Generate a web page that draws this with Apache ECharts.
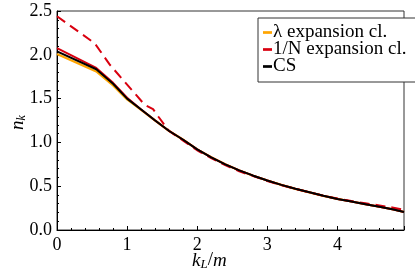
<!DOCTYPE html>
<html>
<head>
<meta charset="utf-8">
<script src="https://cdn.jsdelivr.net/npm/echarts@6/dist/echarts.min.js"></script>
<style>html,body{margin:0;padding:0;background:#fff}#c{width:415px;height:277px}</style>
</head>
<body>
<div id="c"></div>
<script>
// Data
var kSolid = [0, 0.56, 0.8, 1.0, 1.2, 1.4, 1.6, 1.8, 2.0, 2.2, 2.4, 2.6, 2.8, 3.0, 3.2, 3.4, 3.6, 3.8, 4.0, 4.2, 4.4, 4.6, 4.8, 4.95];
var csValues     = [2.04, 1.835, 1.67, 1.50, 1.375, 1.25, 1.13, 1.03, 0.92, 0.83, 0.75, 0.68, 0.62, 0.565, 0.515, 0.47, 0.43, 0.39, 0.355, 0.325, 0.295, 0.265, 0.235, 0.205];
var lambdaValues = [2.01, 1.81, 1.65, 1.49, 1.37, 1.25, 1.13, 1.03, 0.92, 0.83, 0.75, 0.68, 0.62, 0.565, 0.515, 0.47, 0.43, 0.39, 0.355, 0.325, 0.295, 0.265, 0.235, 0.205];
var invNValues   = [2.075, 1.85, 1.68, 1.51, 1.375, 1.25, 1.13, 1.03, 0.92, 0.83, 0.75, 0.68, 0.62, 0.565, 0.515, 0.47, 0.43, 0.39, 0.355, 0.325, 0.295, 0.265, 0.235, 0.205];
var kDashed = [0, 0.54, 0.75, 1.0, 1.25, 1.37, 1.45, 1.55, 1.6, 1.8, 2.0, 2.2, 2.4, 2.6, 2.8, 3.0, 3.2, 3.4, 3.6, 3.8, 4.0, 4.2, 4.4, 4.6, 4.8, 4.95];
var invNClassicalValues = [2.44, 2.13, 1.89, 1.66, 1.43, 1.38, 1.29, 1.18, 1.13, 1.02, 0.91, 0.82, 0.74, 0.67, 0.615, 0.56, 0.51, 0.47, 0.43, 0.39, 0.36, 0.33, 0.305, 0.28, 0.255, 0.23];
var xTicks = [0, 1, 2, 3, 4];
var yTicks = [0, 0.5, 1.0, 1.5, 2.0, 2.5];
var legendNames = ['\u03bb expansion cl.', '1/N expansion cl.', 'CS'];
var legendColors = ['#FFA500', '#D9000F', '#000000'];

function pairs(xs, ys) { return xs.map(function (x, i) { return [x, ys[i]]; }); }

var FONT = 'Liberation Serif';
var chart = echarts.init(document.getElementById('c'), null, {renderer: 'canvas'});
chart.setOption({
  animation: false,
  backgroundColor: '#fff',
  grid: {left: 57, right: 11, top: 11, bottom: 47, show: true, borderColor: '#333', borderWidth: 1},
  xAxis: {
    type: 'value', min: 0, max: 4.95, interval: 1,
    axisLine: {onZero: false, lineStyle: {color: '#000', width: 1}},
    axisTick: {inside: true, length: 4, lineStyle: {color: '#000'}},
    minorTick: {show: true, splitNumber: 5, length: 2, lineStyle: {color: '#000'}},
    splitLine: {show: false},
    axisLabel: {showMaxLabel: false, color: '#000', fontFamily: FONT, fontSize: 18, margin: 6,
      formatter: function (v) { return xTicks.indexOf(v) >= 0 ? String(v) : ''; }}
  },
  yAxis: {
    type: 'value', min: 0, max: 2.5, interval: 0.5,
    axisLine: {show: true, onZero: false, lineStyle: {color: '#000', width: 1}},
    axisTick: {show: true, inside: true, length: 4, lineStyle: {color: '#000'}},
    minorTick: {show: true, splitNumber: 5, length: 2, lineStyle: {color: '#000'}},
    splitLine: {show: false},
    axisLabel: {color: '#000', fontFamily: FONT, fontSize: 18, margin: 5,
      formatter: function (v) { return yTicks.indexOf(v) >= 0 ? v.toFixed(1) : ''; }}
  },
  legend: {
    data: legendNames.map(function (n, i) {
      return {name: n, icon: 'path://M0,0H10V3H0Z', itemStyle: {color: legendColors[i], borderWidth: 0},
              lineStyle: {type: 'solid', color: legendColors[i], width: 0, opacity: 0}};
    }),
    orient: 'vertical', left: 258, top: 18,
    itemWidth: 9, itemHeight: 3, itemGap: -2,
    padding: [5, 10, 6, 5],
    backgroundColor: '#fff', borderColor: '#333', borderWidth: 1, borderRadius: 0,
    textStyle: {fontFamily: FONT, fontSize: 19, lineHeight: 14, color: '#000', padding: [0, 0, 0, -4]}
  },
  graphic: [
    {type: 'text', left: 192, top: 251, style: {
      text: '{i|k}{s|L}{n|/}{i|m}', fill: '#000',
      rich: {i: {fontFamily: FONT, fontStyle: 'italic', fontSize: 19},
             s: {fontFamily: FONT, fontStyle: 'italic', fontSize: 13, padding: [9, 0, 0, 0]},
             n: {fontFamily: FONT, fontSize: 19}}
    }},
    {type: 'text', x: 8, y: 130, rotation: Math.PI / 2, style: {
      text: '{i|n}{s|k}', fill: '#000',
      rich: {i: {fontFamily: FONT, fontStyle: 'italic', fontSize: 19},
             s: {fontFamily: FONT, fontStyle: 'italic', fontSize: 12, padding: [8, 0, 0, 0]}}
    }}
  ],
  series: [
    {name: legendNames[0], type: 'line', data: pairs(kSolid, lambdaValues), showSymbol: false,
     lineStyle: {color: legendColors[0], width: 2.2}, itemStyle: {color: legendColors[0]}, z: 2},
    {name: legendNames[1], type: 'line', data: pairs(kSolid, invNValues), showSymbol: false,
     lineStyle: {color: legendColors[1], width: 2}, itemStyle: {color: legendColors[1]}, z: 3},
    {name: '1/N dashed', type: 'line', data: pairs(kDashed, invNClassicalValues), showSymbol: false,
     lineStyle: {color: legendColors[1], width: 2, type: [10, 6]}, itemStyle: {color: legendColors[1]}, z: 3},
    {name: legendNames[2], type: 'line', data: pairs(kSolid, csValues), showSymbol: false,
     lineStyle: {color: legendColors[2], width: 2}, itemStyle: {color: legendColors[2]}, z: 4}
  ]
});
</script>
</body>
</html>
